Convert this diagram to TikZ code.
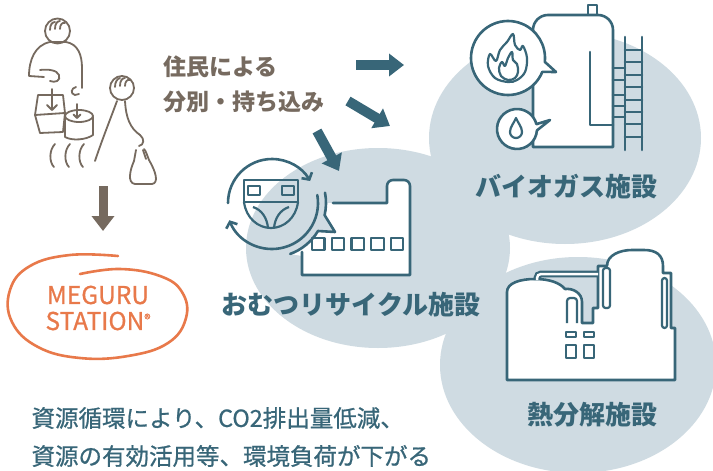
\documentclass[tikz,border=0pt]{standalone}
\usepackage{fontspec}
\setmainfont{Noto Sans CJK JP}
\newfontfamily\medfont[FakeBold=0.8]{Noto Sans CJK JP}
\usetikzlibrary{arrows.meta}
\definecolor{teal1}{HTML}{386678}
\definecolor{blob}{HTML}{CFDBE2}
\definecolor{brownline}{HTML}{766A5F}
\definecolor{meguru}{HTML}{E8794A}

\begin{document}
\begin{tikzpicture}[x=1pt,y=-1pt,
    icon/.style={draw=teal1,line width=2.6pt,fill=white,line join=round},
    iconline/.style={draw=teal1,line width=2.6pt,line cap=round,line join=round},
    thin/.style={draw=teal1,line width=2.2pt,line join=round},
    hand/.style={draw=brownline,line width=1.8pt,line cap=round,line join=round},
    bigarrow/.style={draw=teal1,line width=10pt,-{Triangle[length=15pt,width=22pt]}},
    facility/.style={text=teal1,font=\bfseries\fontsize{26}{30}\selectfont},
    note/.style={anchor=west,text=teal1,font=\medfont\fontsize{23.5}{28}\selectfont}]
  \useasboundingbox (0,0) rectangle (713,471);
  \fill[white] (0,0) rectangle (713,471);

  % background blobs
  \fill[blob] (565,138) ellipse [x radius=136,y radius=106];
  \fill[blob] (378,248) ellipse [x radius=132,y radius=100];
  \fill[blob] (578,365) ellipse [x radius=138,y radius=108];

  % residents
  \draw[hand] (57.5,31) circle (12.5);
  \draw[hand] (50,30) .. controls (50,25) and (52,22) .. (55,22);
  \draw[hand] (55,29) .. controls (55,24) and (57,21) .. (60,21);
  \draw[hand] (60,29) .. controls (60,25) and (62,22) .. (65,23);
  \draw[hand] (44,77) -- (29,76) .. controls (29,60) and (35,45) .. (50,42)
    -- (66,42) .. controls (78,44) and (82,55) .. (82,68) -- (82,88);
  \draw[hand] (40,70) .. controls (48,69) and (57,70) .. (59,75)
    .. controls (61,81) and (55,83) .. (50,81);
  \draw[hand] (76,87) .. controls (71,88) and (70,94) .. (75,95) -- (79,94);
  % basket
  \draw[hand] (38,95) -- (63,95) -- (65,113) -- (63,132) -- (40,133) -- (35,115) -- cycle;
  \draw[hand] (35,115) -- (65,113);
  \draw[hand] (52,89) -- (52,110) (47,105) -- (52,110) -- (57,105);
  % pot
  \draw[hand] (65,118) -- (65,137) .. controls (72,141) and (86,140) .. (93,135) -- (93,117);
  \draw[hand,fill=white] (79,116) ellipse [x radius=14,y radius=6];
  \draw[hand] (77,104) -- (77,118) (73.5,114.5) -- (77,118) -- (80.5,114.5);
  \foreach \x in {55,70,84}
    \draw[hand] (\x,144) .. controls (\x-6,150) and (\x-6,162) .. (\x-1,167);
  % second resident with bag
  \draw[hand] (122,88) circle (12);
  \draw[hand] (115,87) .. controls (115,82) and (117,79) .. (120,78);
  \draw[hand] (120,86) .. controls (120,81) and (122,78) .. (125,78);
  \draw[hand] (125,86) .. controls (125,82) and (127,79) .. (130,80);
  \draw[hand] (117,101) .. controls (110,120) and (102,140) .. (95,161);
  \draw[hand] (125,101) .. controls (126,118) and (130,128) .. (140,135)
    .. controls (145,139) and (144,145) .. (139,146);
  \draw[hand] (136,150) -- (134,161) .. controls (130,170) and (127,183) .. (135,184)
    -- (152,184) .. controls (159,183) and (156,172) .. (149,160)
    .. controls (147,155) and (146,151) .. (144,149);
  \draw[hand] (143,150) -- (146,159);

  % MEGURU STATION
  \draw[meguru,line width=2.6pt,line cap=round]
    plot[smooth,tension=0.7] coordinates {(118,256) (70,255) (30,266) (10,290) (12,322)
      (38,347) (80,358) (128,356) (168,343) (186,318) (182,292) (160,276) (120,269) (80,274)};
  \node[text=meguru,font=\medfont\fontsize{24.5}{26}\selectfont,align=center] (station) at (98,308)
    {MEGURU\\STATION{\fontsize{13}{13}\selectfont\raisebox{6pt}{®}}};

  \coordinate (people) at (103,186);
  \coordinate (drop) at (103,231);
  \draw[bigarrow,draw=brownline,line width=9pt] (people) -- (drop);

  % labels
  \node[anchor=west,text=brownline,font=\bfseries\fontsize{23}{28}\selectfont] (bring1) at (160,67) {住民による};
  \node[anchor=west,text=brownline,font=\bfseries\fontsize{23}{28}\selectfont] (bring2) at (160,102) {分別・持ち込み};

  % arrows to the facilities
  \coordinate (a1) at (356,65);  \coordinate (a1e) at (404,65);
  \coordinate (a2) at (348,101); \coordinate (a2e) at (390,126);
  \coordinate (a3) at (317,131); \coordinate (a3e) at (339,171);
  \draw[bigarrow] (a1) -- (a1e);
  \draw[bigarrow] (a2) -- (a2e);
  \draw[bigarrow] (a3) -- (a3e);

  % biogas tank
  \draw[icon] (588,5) rectangle (597,15);
  \draw[icon] (533,147) -- (533,30) arc[start angle=180,end angle=270,radius=15]
    -- (598,15) arc[start angle=270,end angle=360,radius=15] -- (613,147) -- cycle;
  \draw[iconline] (590,52) -- (590,125) -- (613,125);
  \draw[iconline] (625,37) -- (625,150) (642,37) -- (642,150);
  \foreach \y in {50,62,75,87,100,112,124,137}
    \draw[iconline] (625,\y) -- (642,\y);
  \foreach \y in {68,80,95,106,117}
    \draw[iconline] (613,\y) -- (625,\y);
  % speech bubbles
  \draw[icon] (508,58) ++(22:37) arc[start angle=22,end angle=366,radius=37] -- (556,72) -- cycle;
  \draw[thin] plot[smooth cycle,tension=0.6] coordinates {(508,82) (495,78) (488,66) (490,54)
    (496,61) (500,50) (507,42) (513,34) (515,45) (520,50) (523,46) (527,58) (525,72) (517,80)};
  \draw[thin] plot[smooth cycle,tension=0.6] coordinates {(508,80) (501,76) (499,68) (502,62)
    (505,66) (508,58) (512,52) (513,60) (517,64) (518,72) (515,78)};
  \draw[icon] (517,129) ++(4:20) arc[start angle=4,end angle=346,radius=20] -- (550,120) -- cycle;
  \draw[thin] (516,118) .. controls (514,123) and (510,127) .. (510,132)
    arc[start angle=180,end angle=0,radius=6] .. controls (522,127) and (518,123) .. cycle;
  \node[facility] (biogas) at (566,187) {バイオガス施設};

  % diaper recycling plant
  \fill[white] (302,275) -- (410,275) -- (410,186) arc[start angle=0,end angle=-90,radius=6]
    -- (393,180) arc[start angle=270,end angle=180,radius=6] -- (387,203) -- (326,203)
    arc[start angle=0,end angle=13,radius=54] -- (335,232) -- (318,231)
    arc[start angle=31,end angle=70,radius=54] -- (302,256) -- cycle;
  \draw[iconline] (302,252) -- (302,275) -- (410,275) -- (410,186)
    arc[start angle=0,end angle=-90,radius=6] -- (393,180)
    arc[start angle=270,end angle=180,radius=6] -- (387,203) -- (333,203);
  \draw[iconline] (272,203) ++(-11:54) arc[start angle=-11,end angle=13,radius=54]
    -- (335,232) -- (318,231) arc[start angle=31,end angle=70,radius=54];
  \foreach \i in {0,...,4}
    \draw[thin] (312+19.7*\i,238) rectangle +(12.5,12);
  \draw[iconline,-{Straight Barb[length=5pt,width=12pt]}] (272,203) ++(180:44)
    arc[start angle=180,end angle=330,radius=44];
  \draw[iconline,-{Straight Barb[length=5pt,width=12pt]}] (272,203) ++(-10:46)
    arc[start angle=-10,end angle=158,radius=46];
  \draw[thin] (244,180) rectangle (298,202);
  \draw[thin] (244,202) .. controls (246,218) and (258,228) .. (271,228)
    .. controls (284,228) and (296,218) .. (298,202);
  \draw[thin] (253,207) .. controls (262,210) and (267,218) .. (268,228);
  \draw[thin] (289,207) .. controls (280,210) and (275,218) .. (274,228);
  \draw[thin] (248,186) rectangle (260,195) (282,186) rectangle (294,195);
  \node[facility] (diaper) at (351,305) {おむつリサイクル施設};

  % thermal decomposition plant
  \draw[icon] (507,380) -- (507,292) .. controls (507,283) and (520,279) .. (535,279)
    .. controls (550,279) and (560,283) .. (565,289) .. controls (573,288) and (582,293) .. (582,302)
    -- (582,323) -- (593,323) -- (593,308) -- (598,308) -- (598,266) -- (607,266)
    .. controls (607,255) and (620,250) .. (632,250) -- (644,250)
    .. controls (656,250) and (663,255) .. (663,266) -- (663,273) -- (671,273)
    -- (671,328) -- (675,328) -- (675,380) -- cycle;
  \draw[teal1,line width=2.2pt,double=white,double distance=2.5pt,rounded corners=4pt]
    (537,280) -- (537,274) -- (598,274);
  \draw[thin,rounded corners=3pt] (567,323) -- (567,298) -- (577,298) -- (577,323);
  \draw[thin,rounded corners=2.5pt] (603,268) rectangle (610,308);
  \draw[thin,rounded corners=2.5pt] (662,278) rectangle (667,328);
  \draw[thin] (566,332) rectangle (576,337) (584,332) rectangle (594,337);
  \draw[thin] (566,345) rectangle (576,358) (584,345) rectangle (594,358);
  \node[facility] (thermal) at (592,415) {熱分解施設};

  % effect
  \node[note] (effect1) at (28,418) {資源循環により、CO2排出量低減、};
  \node[note] (effect2) at (28,456) {資源の有効活用等、環境負荷が下がる};
\end{tikzpicture}
\end{document}
